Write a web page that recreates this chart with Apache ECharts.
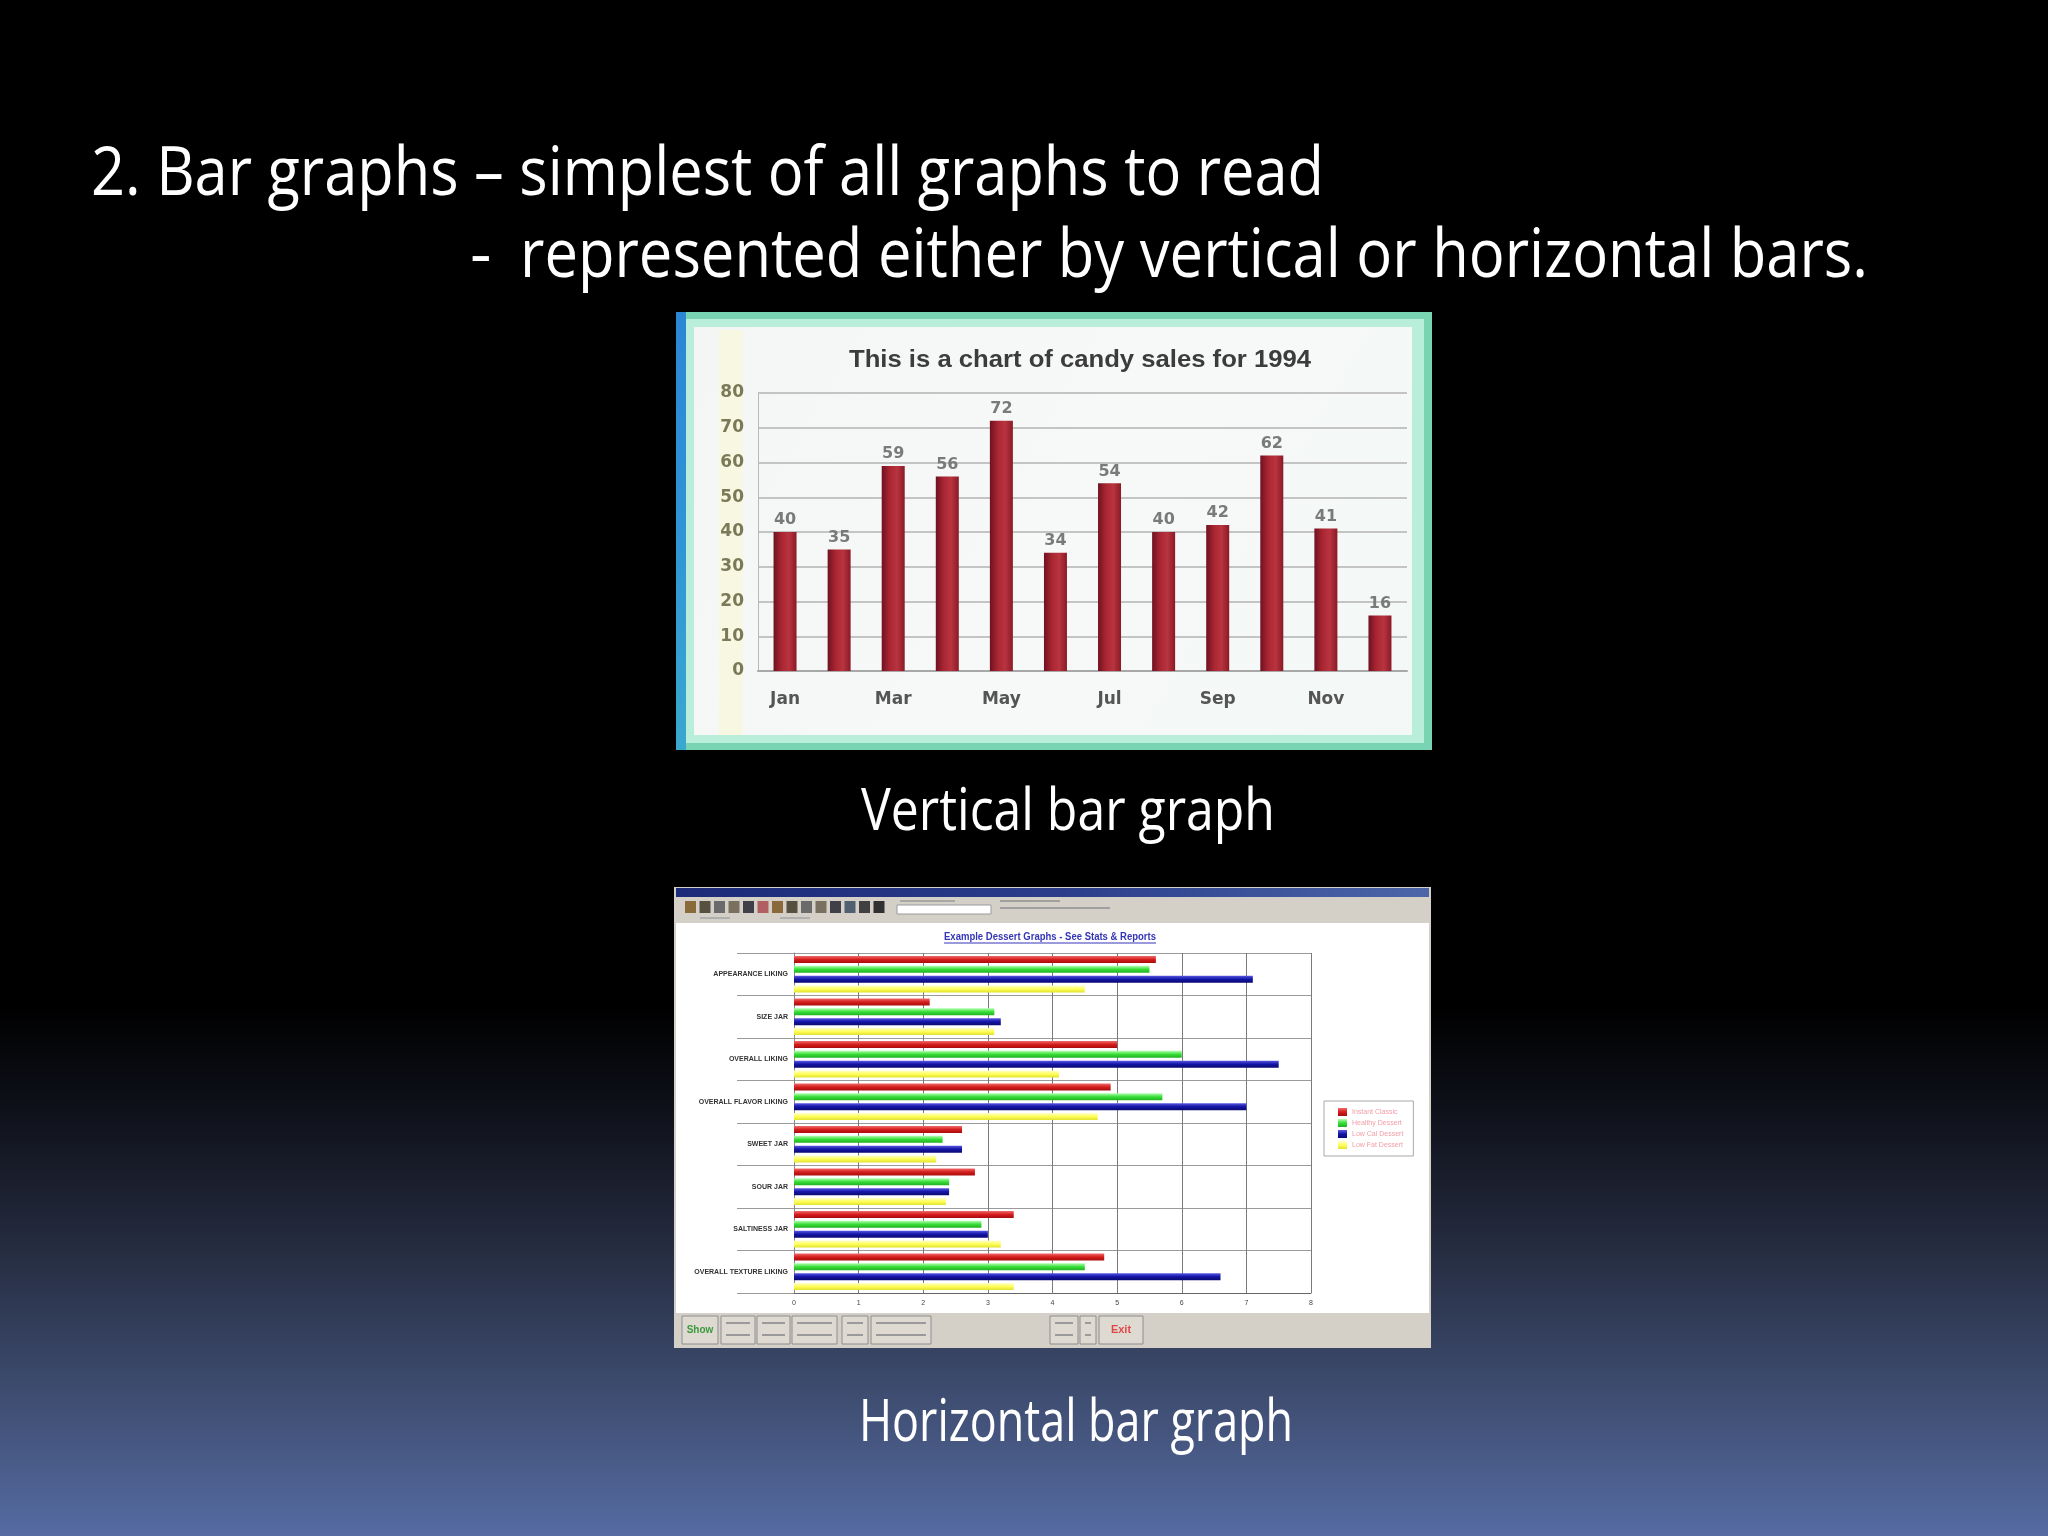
<!DOCTYPE html>
<html>
<head>
<meta charset="utf-8">
<script src="https://cdn.jsdelivr.net/npm/echarts@6/dist/echarts.min.js"></script>
<style>
html,body{margin:0;padding:0;background:#000;}
#c{width:2048px;height:1536px;}
</style>
</head>
<body>
<div id="c"></div>
<script>
// ---------- data ----------
const months = ['Jan','Feb','Mar','Apr','May','Jun','Jul','Aug','Sep','Oct','Nov','Dec'];
const candySales = [40,35,59,56,72,34,54,40,42,62,41,16];
const candyAxisMax = 80;
const candyAxisStep = 10;

const attributes = ['APPEARANCE LIKING','SIZE JAR','OVERALL LIKING','OVERALL FLAVOR LIKING','SWEET JAR','SOUR JAR','SALTINESS JAR','OVERALL TEXTURE LIKING'];
const dessertNames = ['Instant Classic','Healthy Dessert','Low Cal Dessert','Low Fat Dessert'];
const instantClassic = [5.6,2.1,5.0,4.9,2.6,2.8,3.4,4.8];
const healthyDessert = [5.5,3.1,6.0,5.7,2.3,2.4,2.9,4.5];
const lowCalDessert  = [7.1,3.2,7.5,7.0,2.6,2.4,3.0,6.6];
const lowFatDessert  = [4.5,3.1,4.1,4.7,2.2,2.35,3.2,3.4];
const dessertAxisMax = 8;

const slideLine1 = '2. Bar graphs \u2013 simplest of all graphs to read';
const slideLine2 = 'represented either by vertical or horizontal bars.';
const captionV = 'Vertical bar graph';
const captionH = 'Horizontal bar graph';
const candyTitle = 'This is a chart of candy sales for 1994';
const dessertTitle = 'Example Dessert Graphs - See Stats & Reports';

// ---------- helpers ----------
const mctx = document.createElement('canvas').getContext('2d');
function fit(text, font, target) { mctx.font = font; return target / mctx.measureText(text).width; }
function txt(text, x, y, font, fill, target, align, z) {
  return { type: 'text', x: x, y: y, z: z || 10, scaleX: target ? fit(text, font, target) : 1,
    style: { text: text, font: font, fill: fill, align: align || 'left', verticalAlign: 'middle' } };
}
function rect(x, y, w, h, fill, stroke, z) {
  return { type: 'rect', z: z == null ? -5 : z, shape: { x: x, y: y, width: w, height: h },
    style: { fill: fill, stroke: stroke || null, lineWidth: stroke ? 1 : 0 } };
}
function lin(x2, y2, stops) {
  return { type: 'linear', x: 0, y: 0, x2: x2, y2: y2,
    colorStops: stops.map((c, i) => ({ offset: i / (stops.length - 1), color: c })) };
}

const titleFont = '67px "Open Sans"';
const capFont = '58px "Open Sans"';

const graphics = [];
// slide background
graphics.push({ type: 'rect', z: -20, shape: { x: 0, y: 0, width: 2048, height: 1536 },
  style: { fill: { type: 'linear', x: 0, y: 0, x2: 0, y2: 1, colorStops: [
    { offset: 0, color: '#000000' }, { offset: 0.655, color: '#000000' },
    { offset: 0.72, color: '#0e1019' }, { offset: 0.8, color: '#22283a' },
    { offset: 0.9, color: '#3c4a6c' }, { offset: 1, color: '#556ba2' } ] } } });

// slide text
graphics.push(txt(slideLine1, 91, 176, titleFont, '#ffffff', 1233));
graphics.push(txt('-', 470, 258, titleFont, '#ffffff', 0));
graphics.push(txt(slideLine2, 520, 258, titleFont, '#ffffff', 1348));
graphics.push(txt(captionV, 1068, 813, capFont, '#ffffff', 414, 'center'));
graphics.push(txt(captionH, 1076, 1424, capFont, '#ffffff', 434, 'center'));

// vertical chart frame
graphics.push(rect(676, 312, 756, 438, '#79d4b4', null, -9));
graphics.push(rect(684, 319, 740, 424, '#b9eedb', null, -8));
graphics.push(rect(694, 327, 718, 408, lin(1, 1, ['#f4f6f6', '#f7f9f8', '#f3f8f7']), null, -7));
graphics.push(rect(676, 312, 10, 438, lin(0, 1, ['#2b86d6', '#2f95d6', '#3aa8cf']), null, -6));
graphics.push(rect(719, 330, 24, 405, '#f7f7e2', null, -6));
graphics.push(txt(candyTitle, 1080, 360, 'bold 24px "Liberation Sans"', '#3c3c3c', 462, 'center'));

// horizontal chart window
graphics.push(rect(674, 887, 757, 461, '#d4d0c8', null, -9));
graphics.push(rect(676, 888, 753, 9, lin(1, 0, ['#1c2a78', '#2a3c8a', '#4c66a8']), null, -8));
graphics.push(rect(676, 923, 753, 390, '#ffffff', null, -8));
const iconColors = ['#8a6a3a','#555040','#6a6a6a','#7a7060','#404048','#b06060','#8a6a3a','#555040','#6a6a6a','#7a7060','#404048','#506070','#404040','#303030'];
iconColors.forEach((c, i) => graphics.push(rect(685 + i * 14.5, 901, 11, 12, c, null, -7)));
graphics.push(rect(897, 905, 94, 9, '#ffffff', '#9a9a9a', -7));
graphics.push(rect(900, 900, 55, 2, '#a8a8a8', null, -7));
graphics.push(rect(1000, 900, 60, 2, '#a0a0a0', null, -7));
graphics.push(rect(1000, 907, 110, 2, '#a0a0a0', null, -7));
graphics.push(rect(700, 917, 30, 2, '#b0b0b0', null, -7));
graphics.push(rect(780, 917, 30, 2, '#b0b0b0', null, -7));
// bottom bar buttons
const btns = [[682,36],[721,34],[757,33],[792,45],[842,26],[871,60],[1050,28],[1080,16]];
btns.forEach(b => {
  graphics.push(rect(b[0], 1316, b[1], 28, '#dedad2', '#8e8e8e', -7));
  graphics.push(rect(b[0] + 5, 1322, b[1] - 10, 2, '#9a9a9a', null, -6));
  graphics.push(rect(b[0] + 5, 1334, b[1] - 10, 2, '#9a9a9a', null, -6));
});
graphics.push(rect(683, 1317, 34, 26, '#dedad2', null, -5));
graphics.push(txt('Show', 700, 1330, 'bold 10px "Liberation Sans"', '#3c9a3c', 0, 'center'));
graphics.push(rect(1099, 1316, 44, 28, '#dedad2', '#8e8e8e', -7));
graphics.push(txt('Exit', 1121, 1330, 'bold 11px "Liberation Sans"', '#e04848', 0, 'center'));
graphics.push(txt(dessertTitle, 1050, 937, 'bold 10px "Liberation Sans"', '#3535b8', 212, 'center'));
graphics.push({ type: 'line', z: 10, shape: { x1: 944, y1: 943, x2: 1156, y2: 943 }, style: { stroke: '#3535b8', lineWidth: 1 } });

// ---------- chart ----------
const chart = echarts.init(document.getElementById('c'));
const hColors = [
  lin(0, 1, ['#f06a6a', '#d41c1c', '#a80c0c']),
  lin(0, 1, ['#b0ffb0', '#36dd36', '#22b022']),
  lin(0, 1, ['#5a5ae6', '#1414a6', '#0a0a72']),
  lin(0, 1, ['#ffffd0', '#ffff5a', '#e2e230'])
];
const hData = [instantClassic, healthyDessert, lowCalDessert, lowFatDessert];

chart.setOption({
  animation: false,
  graphic: graphics,
  grid: [
    { left: 758, top: 393, width: 649, height: 278 },
    { left: 794, top: 953, width: 517, height: 340 }
  ],
  legend: {
    data: dessertNames, orient: 'vertical', left: 1324, top: 1101,
    itemWidth: 9, itemHeight: 8, itemGap: 3, padding: [7, 10, 7, 14],
    borderColor: '#a8a8a8', borderWidth: 1, backgroundColor: '#ffffff',
    icon: 'rect',
    textStyle: { fontSize: 7, color: '#f0a0a8', fontFamily: 'Liberation Sans' }
  },
  xAxis: [
    { type: 'category', gridIndex: 0, data: months, boundaryGap: true,
      axisLine: { lineStyle: { color: '#a8a8a8', width: 2 } }, axisTick: { show: false },
      axisLabel: { interval: 1, margin: 20, fontSize: 17, fontWeight: 'bold', fontFamily: 'DejaVu Sans', color: '#555555' } },
    { type: 'value', gridIndex: 1, min: 0, max: dessertAxisMax, interval: 1,
      axisLine: { show: true, lineStyle: { color: '#666666' } }, axisTick: { show: false },
      axisLabel: { margin: 7, fontSize: 7, color: '#444444', fontFamily: 'Liberation Sans' },
      splitLine: { show: true, lineStyle: { color: '#7a7a7a', width: 1 } } }
  ],
  yAxis: [
    { type: 'value', gridIndex: 0, min: 0, max: candyAxisMax, interval: candyAxisStep,
      axisLine: { show: true, lineStyle: { color: '#b8b8b8' } }, axisTick: { show: false },
      axisLabel: { margin: 14, fontSize: 17, fontWeight: 'bold', fontFamily: 'DejaVu Sans', color: '#7a7a58' },
      splitLine: { lineStyle: { color: '#c4c4c4', width: 2 } } },
    { type: 'category', gridIndex: 1, data: attributes, inverse: true, boundaryGap: true,
      axisLine: { show: true, lineStyle: { color: '#888888' } },
      axisTick: { show: true, length: 57, lineStyle: { color: '#9a9a9a' } },
      axisLabel: { margin: 6, fontSize: 7, fontWeight: 'bold', color: '#333333', fontFamily: 'Liberation Sans' },
      splitLine: { show: true, lineStyle: { color: '#9a9a9a' } } }
  ],
  series: [
    { type: 'bar', xAxisIndex: 0, yAxisIndex: 0, data: candySales, barWidth: 23,
      itemStyle: { color: lin(1, 0, ['#6e1220', '#a82532', '#b8343f', '#8a1a26']) },
      label: { show: true, position: 'top', distance: 4, fontSize: 16, fontWeight: 'bold', fontFamily: 'DejaVu Sans', color: '#7a7a7a' } }
  ].concat(hData.map((d, i) => ({
    type: 'bar', name: dessertNames[i], xAxisIndex: 1, yAxisIndex: 1, data: d,
    barWidth: 7, barGap: '40%', itemStyle: { color: hColors[i] }
  })))
});
</script>
</body>
</html>
